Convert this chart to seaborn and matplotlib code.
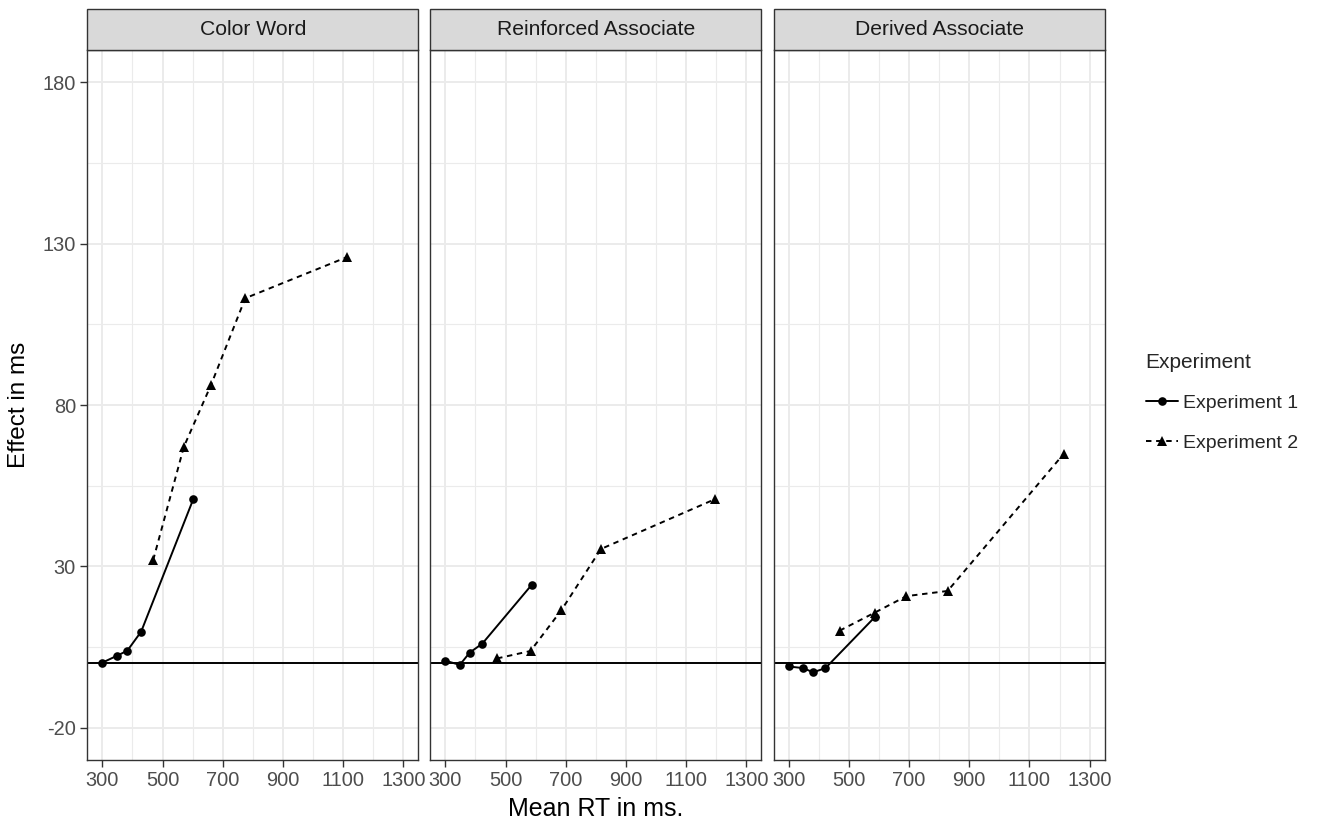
import numpy as np
import pandas as pd
import matplotlib
matplotlib.use("Agg")
import matplotlib.pyplot as plt
import seaborn as sns
from matplotlib.patches import Rectangle

# ---------------- data ----------------
conditions = ["Color Word", "Reinforced Associate", "Derived Associate"]
experiments = ["Experiment 1", "Experiment 2"]

exp1_rt_color = [300, 348, 383, 429, 602]
exp1_eff_color = [0.2, 2.3, 3.9, 9.8, 50.8]
exp2_rt_color = [469, 571, 661, 775, 1112]
exp2_eff_color = [32.0, 67.1, 86.2, 113.1, 125.8]

exp1_rt_reinf = [300, 348, 381, 423, 587]
exp1_eff_reinf = [0.8, -0.5, 3.3, 6.1, 24.3]
exp2_rt_reinf = [472, 583, 686, 817, 1195]
exp2_eff_reinf = [1.5, 3.8, 16.5, 35.4, 50.8]

exp1_rt_deriv = [300, 348, 381, 422, 586]
exp1_eff_deriv = [-1.0, -1.5, -2.8, -1.5, 14.3]
exp2_rt_deriv = [469, 586, 691, 828, 1214]
exp2_eff_deriv = [10.1, 15.7, 20.8, 22.4, 64.9]

x_breaks = [300, 500, 700, 900, 1100, 1300]
x_minor = [400, 600, 800, 1000, 1200]
y_breaks = [-20, 30, 80, 130, 180]
y_minor = [5, 55, 105, 155]

series = {
    "Color Word": [(exp1_rt_color, exp1_eff_color), (exp2_rt_color, exp2_eff_color)],
    "Reinforced Associate": [(exp1_rt_reinf, exp1_eff_reinf), (exp2_rt_reinf, exp2_eff_reinf)],
    "Derived Associate": [(exp1_rt_deriv, exp1_eff_deriv), (exp2_rt_deriv, exp2_eff_deriv)],
}
rows = []
for cond in conditions:
    for exp, (rts, effs) in zip(experiments, series[cond]):
        for r, e in zip(rts, effs):
            rows.append({"Condition": cond, "Experiment": exp, "RT": r, "Effect": e})
df = pd.DataFrame(rows)

# ---------------- style ----------------
sns.set_style("white")
plt.rcParams['font.family'] = ['Liberation Sans', 'DejaVu Sans']
plt.rcParams['axes.unicode_minus'] = False

W, H = 1327, 821
fig = plt.figure(figsize=(W / 100, H / 100), dpi=100)
left_px = [87.3, 430.3, 773.7]
panel_w = 331.0
top_px, bot_px = 50.0, 760.1
strip_h = 40.7

grid_col = "#EBEBEB"
border_col = "#333333"
tick_col = "#4D4D4D"

axes = []
for i, cond in enumerate(conditions):
    ax = fig.add_axes([left_px[i] / W, 1 - bot_px / H, panel_w / W, (bot_px - top_px) / H])
    axes.append(ax)
    sub = df[df["Condition"] == cond]
    sns.lineplot(data=sub, x="RT", y="Effect", style="Experiment",
                 style_order=experiments,
                 markers={"Experiment 1": "o", "Experiment 2": "^"},
                 dashes={"Experiment 1": "", "Experiment 2": (2.8, 2.4)},
                 color="black", linewidth=1.4, estimator=None, sort=False,
                 markeredgewidth=0, ax=ax, legend=(i == 0), zorder=3)
    for ln in ax.lines:
        if ln.get_marker() == "o":
            ln.set_markersize(6.2)
        elif ln.get_marker() == "^":
            ln.set_markersize(7.6)
    ax.axhline(0, color="black", lw=1.4, zorder=2)

    ax.set_xlim(250, 1350)
    ax.set_ylim(-30, 190)
    ax.set_xticks(x_breaks)
    ax.set_xticks(x_minor, minor=True)
    ax.set_yticks(y_breaks)
    ax.set_yticks(y_minor, minor=True)
    ax.grid(which="major", color=grid_col, lw=1.4, zorder=0)
    ax.grid(which="minor", color=grid_col, lw=0.8, zorder=0)
    ax.set_axisbelow(True)
    for sp in ax.spines.values():
        sp.set_color(border_col)
        sp.set_linewidth(1.0)
    ax.tick_params(axis="both", which="major", length=4.7, width=1.0, color=border_col,
                   labelcolor=tick_col, labelsize=14.4, pad=3.5,
                   bottom=True, left=(i == 0))
    ax.tick_params(axis="both", which="minor", length=0)
    if i != 0:
        ax.set_yticklabels([])
    ax.set_xlabel("")
    ax.set_ylabel("")

    # strip
    sh = strip_h / (bot_px - top_px)
    ax.add_patch(Rectangle((0, 1), 1, sh, transform=ax.transAxes, clip_on=False,
                           facecolor="#D9D9D9", edgecolor=border_col, lw=1.0, zorder=5))
    ax.text(0.5, 1 + sh / 2, cond, transform=ax.transAxes, ha="center", va="center",
            fontsize=15.2, color="#1A1A1A", zorder=6)

fig.text(596 / W, 1 - 809 / H, "Mean RT in ms.", ha="center", va="center", fontsize=18, color="black")
fig.text(19 / W, 1 - 405 / H, "Effect in ms", ha="center", va="center", rotation=90,
         fontsize=17.5, color="black")

handles, labels = axes[0].get_legend_handles_labels()
axes[0].get_legend().remove()
for h in handles:
    h.set_color("black")
    h.set_markeredgewidth(0)
    if h.get_marker() == "o":
        h.set_markersize(6.2)
    elif h.get_marker() == "^":
        h.set_markersize(7.6)
leg = fig.legend(handles, labels, title="Experiment", loc="upper left",
                 bbox_to_anchor=(1136 / W, 1 - 343 / H), frameon=False,
                 fontsize=14.0, title_fontsize=15.0, handlelength=1.65,
                 handletextpad=0.25, labelspacing=1.15, borderpad=0,
                 alignment="left")

fig.savefig("out.png", dpi=100)
